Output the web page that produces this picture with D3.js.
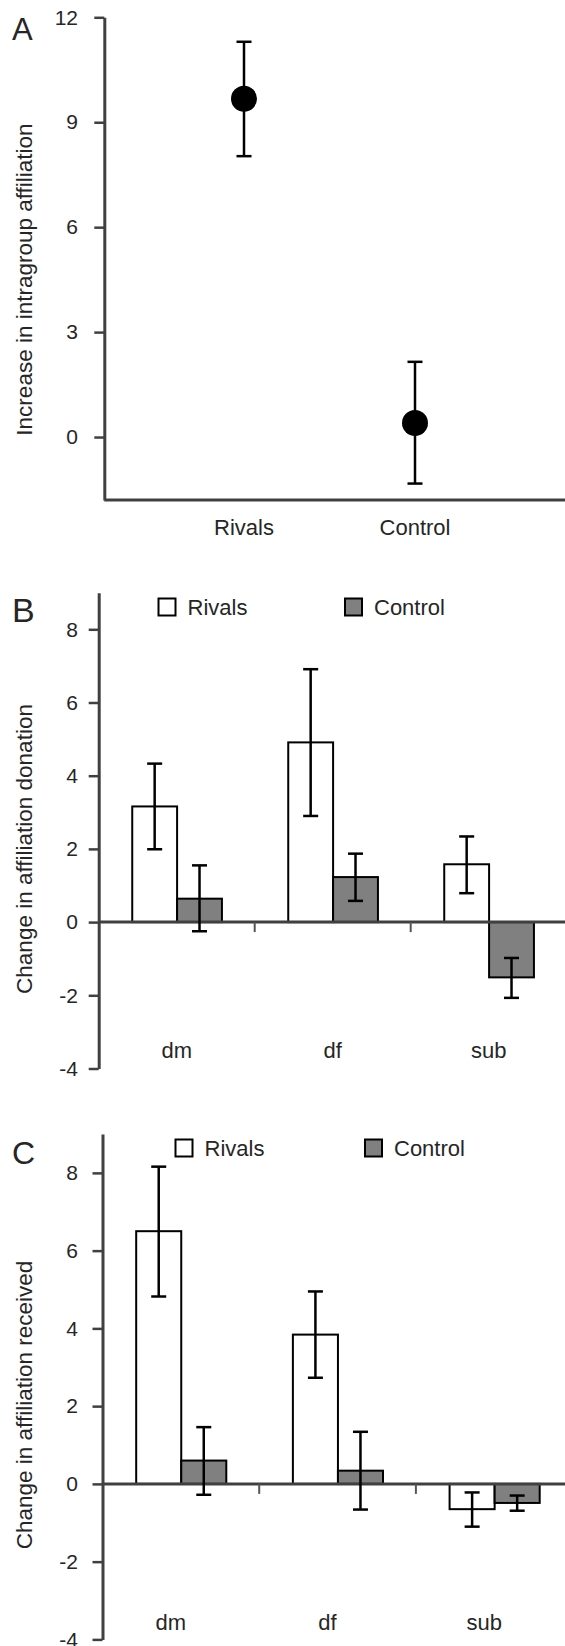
<!DOCTYPE html>
<html>
<head>
<meta charset="utf-8">
<script src="https://cdn.jsdelivr.net/npm/d3@7"></script>
<style>
  body { margin: 0; background: #fff; }
  svg { display: block; }
  text { font-family: "Liberation Sans", Arial, Helvetica, sans-serif; fill: #262626; }
</style>
</head>
<body>
<svg id="chart" width="565" height="1646"></svg>
<script>
// ---------- DATA ----------
// Panel A
const catsA = ["Rivals", "Control"];
const meanA = [9.67, 0.40];
const upperA = [11.30, 2.15];
const lowerA = [8.03, -1.33];
const ticksA = [0, 3, 6, 9, 12];

// Panels B & C
const groups = ["dm", "df", "sub"];
const seriesNames = ["Rivals", "Control"];
const ticksBC = [-4, -2, 0, 2, 4, 6, 8];

const donationRivals   = [3.16, 4.91, 1.58];
const donationRivalsHi = [4.33, 6.91, 2.34];
const donationRivalsLo = [1.99, 2.90, 0.79];
const donationControl   = [0.64, 1.23, -1.51];
const donationControlHi = [1.55, 1.87, -0.98];
const donationControlLo = [-0.25, 0.58, -2.07];

const receivedRivals   = [6.50, 3.84, -0.65];
const receivedRivalsHi = [8.16, 4.95, -0.22];
const receivedRivalsLo = [4.82, 2.73, -1.10];
const receivedControl   = [0.60, 0.34, -0.49];
const receivedControlHi = [1.46, 1.34, -0.30];
const receivedControlLo = [-0.28, -0.66, -0.69];

// ---------- STYLE ----------
const AXIS = "#404040";
const FILL = { Rivals: "#ffffff", Control: "#808080" };
const W = 565;
const fmt = d => String(d); // plain hyphen minus, as in the original

const svg = d3.select("#chart");

function styleAxis(g) {
  g.select(".domain").attr("stroke", AXIS).attr("stroke-width", 3);
  g.selectAll(".tick line").attr("stroke", AXIS).attr("stroke-width", 2.5);
  g.selectAll(".tick text").attr("font-size", 21).attr("fill", "#262626")
    .style("font-family", '"Liberation Sans", Arial, sans-serif');
}

function errorBar(g, x, yHi, yLo, cap) {
  g.append("line").attr("x1", x).attr("x2", x).attr("y1", yHi).attr("y2", yLo)
    .attr("stroke", "#000").attr("stroke-width", 2.5);
  [yHi, yLo].forEach(yy => {
    g.append("line").attr("x1", x - cap / 2).attr("x2", x + cap / 2)
      .attr("y1", yy).attr("y2", yy).attr("stroke", "#000").attr("stroke-width", 2.5);
  });
}

// ---------- PANEL A ----------
(function () {
  const axisX = 104.3;
  const y = d3.scaleLinear().domain([-1.8, 12]).range([500, 17.3]);
  const x = d3.scalePoint().domain(catsA).range([244, 415]);
  const g = svg.append("g");

  g.append("line").attr("x1", axisX).attr("x2", W).attr("y1", y(-1.8)).attr("y2", y(-1.8))
    .attr("stroke", AXIS).attr("stroke-width", 3);

  const ax = g.append("g").attr("transform", `translate(${axisX},0)`)
    .call(d3.axisLeft(y).tickValues(ticksA).tickFormat(fmt).tickSize(10).tickSizeOuter(0).tickPadding(16.3));
  styleAxis(ax);

  catsA.forEach((c, i) => {
    errorBar(g, x(c), y(upperA[i]), y(lowerA[i]), 15);
    g.append("circle").attr("cx", x(c)).attr("cy", y(meanA[i])).attr("r", 13).attr("fill", "#000");
    g.append("text").attr("x", x(c)).attr("y", 535).attr("text-anchor", "middle")
      .attr("font-size", 22).text(c);
  });

  g.append("text").attr("transform", `translate(32,279.5) rotate(-90)`)
    .attr("text-anchor", "middle").attr("font-size", 22.5).text("Increase in intragroup affiliation");
  g.append("text").attr("x", 12).attr("y", 40).attr("font-size", 31).text("A");
})();

// ---------- PANELS B & C ----------
function barPanel(cfg) {
  const y = d3.scaleLinear().domain([-4, 9]).range([cfg.yBottom, cfg.yTop]);
  const bw = cfg.bandW;
  const x = d3.scaleBand().domain(groups).range([cfg.axisX, cfg.axisX + 3 * bw]).padding(0);
  const inner = d3.scaleBand().domain(seriesNames).range([0.215 * bw, 0.79 * bw]).padding(0);
  const g = svg.append("g");

  const data = [];
  groups.forEach((grp, i) => {
    data.push({ grp, s: "Rivals", v: cfg.rivals[i], hi: cfg.rivalsHi[i], lo: cfg.rivalsLo[i] });
    data.push({ grp, s: "Control", v: cfg.control[i], hi: cfg.controlHi[i], lo: cfg.controlLo[i] });
  });

  g.selectAll("rect.bar").data(data).enter().append("rect").attr("class", "bar")
    .attr("x", d => x(d.grp) + inner(d.s))
    .attr("y", d => y(Math.max(0, d.v)))
    .attr("width", inner.bandwidth())
    .attr("height", d => Math.abs(y(d.v) - y(0)))
    .attr("fill", d => FILL[d.s]).attr("stroke", "#000").attr("stroke-width", 2);

  g.append("line").attr("x1", cfg.axisX).attr("x2", W).attr("y1", y(0)).attr("y2", y(0))
    .attr("stroke", AXIS).attr("stroke-width", 3);
  groups.slice(0, 2).forEach(grp => {
    const xx = x(grp) + bw;
    g.append("line").attr("x1", xx).attr("x2", xx).attr("y1", y(0)).attr("y2", y(0) + 10)
      .attr("stroke", "#555").attr("stroke-width", 2);
  });

  data.forEach(d => {
    const cx = x(d.grp) + inner(d.s) + inner.bandwidth() / 2;
    errorBar(g, cx, y(d.hi), y(d.lo), 15);
  });

  const ax = g.append("g").attr("transform", `translate(${cfg.axisX},0)`)
    .call(d3.axisLeft(y).tickValues(ticksBC).tickFormat(fmt).tickSize(10).tickSizeOuter(0).tickPadding(cfg.tickPad));
  styleAxis(ax);

  groups.forEach(grp => {
    g.append("text").attr("x", x(grp) + bw / 2 + cfg.labelShift).attr("y", cfg.labelY)
      .attr("text-anchor", "middle").attr("font-size", 22).text(grp);
  });

  seriesNames.forEach((s, i) => {
    const lx = cfg.legendX[i];
    g.append("rect").attr("x", lx).attr("y", cfg.legendY).attr("width", 17).attr("height", 17)
      .attr("fill", FILL[s]).attr("stroke", "#000").attr("stroke-width", 2);
    g.append("text").attr("x", lx + 29).attr("y", cfg.legendY + 16).attr("font-size", 22).text(s);
  });

  g.append("text").attr("transform", `translate(32,${cfg.titleY}) rotate(-90)`)
    .attr("text-anchor", "middle").attr("font-size", 22.5).text(cfg.title);
  g.append("text").attr("x", 12).attr("y", cfg.letterY).attr("font-size", cfg.letterSize).text(cfg.letter);
}

barPanel({
  axisX: 98.7, yTop: 592.7, yBottom: 1068.5, bandW: 156, tickPad: 10.7,
  rivals: donationRivals, rivalsHi: donationRivalsHi, rivalsLo: donationRivalsLo,
  control: donationControl, controlHi: donationControlHi, controlLo: donationControlLo,
  labelY: 1058, labelShift: 0,
  legendX: [158.5, 345], legendY: 598.5,
  title: "Change in affiliation donation", titleY: 849,
  letter: "B", letterY: 621.7, letterSize: 34
});

barPanel({
  axisX: 102.5, yTop: 1134, yBottom: 1639.4, bandW: 156.7, tickPad: 14.5,
  rivals: receivedRivals, rivalsHi: receivedRivalsHi, rivalsLo: receivedRivalsLo,
  control: receivedControl, controlHi: receivedControlHi, controlLo: receivedControlLo,
  labelY: 1629.5, labelShift: -10,
  legendX: [175.5, 365], legendY: 1139.5,
  title: "Change in affiliation received", titleY: 1405,
  letter: "C", letterY: 1164.3, letterSize: 32
});
</script>
</body>
</html>
